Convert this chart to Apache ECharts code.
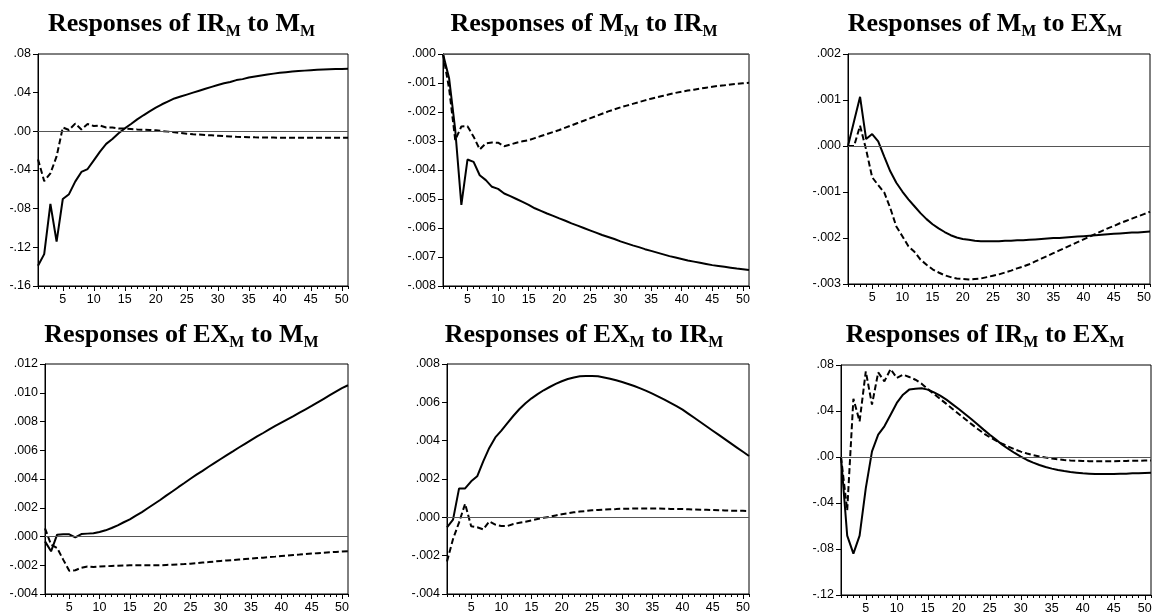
<!DOCTYPE html>
<html><head><meta charset="utf-8">
<script src="https://cdn.jsdelivr.net/npm/echarts@6/dist/echarts.min.js"></script>
<style>html,body{margin:0;padding:0;background:#fff}#c{width:1152px;height:614px}</style>
</head><body><div id="c"></div>
<script>
// ---------- data ----------
const periods = [1,2,3,4,5,6,7,8,9,10,11,12,13,14,15,16,17,18,19,20,21,22,23,24,25,26,27,28,29,30,31,32,33,34,35,36,37,38,39,40,41,42,43,44,45,46,47,48,49,50,51];
const xTickLabels = [5,10,15,20,25,30,35,40,45,50];

// panel titles: [response variable, shock variable]
const titleResp = ['IR','M','M','EX','EX','IR'];
const titleShock = ['M','IR','EX','M','IR','EX'];

// y-axis tick settings
const yMin = [-0.16, -0.008, -0.003, -0.004, -0.004, -0.12];
const yMax = [0.08, 0.000, 0.002, 0.012, 0.008, 0.08];
const yStep = [0.04, 0.001, 0.001, 0.002, 0.002, 0.04];
const yDecimals = [2, 3, 3, 3, 3, 2];

// Responses of IR_M to M_M
const irToM_solid = [-0.139,-0.127,-0.075,-0.114,-0.070,-0.065,-0.052,-0.042,-0.039,-0.030,
 -0.021,-0.013,-0.008,-0.002,0.003,0.0076,0.0124,0.0166,0.0207,0.0245,
 0.028,0.031,0.034,0.036,0.038,0.040,0.042,0.044,0.046,0.048,
 0.0497,0.051,0.053,0.054,0.0556,0.0567,0.0577,0.0587,0.0597,0.0605,
 0.0612,0.0618,0.0623,0.0628,0.0633,0.0637,0.064,0.0643,0.0645,0.0646,0.0647];
const irToM_dash = [-0.029,-0.0515,-0.0435,-0.026,0.004,0.0014,0.008,0.002,0.0076,0.0055,
 0.006,0.004,0.004,0.003,0.0028,0.0024,0.002,0.0017,0.0014,0.001,
 0.0003,-0.0003,-0.001,-0.0017,-0.0024,-0.003,-0.0034,-0.0038,-0.0041,-0.0045,
 -0.005,-0.0053,-0.0056,-0.0058,-0.006,-0.0062,-0.0063,-0.0064,-0.0065,-0.0066,
 -0.0066,-0.0067,-0.0067,-0.0067,-0.0067,-0.0067,-0.0067,-0.0067,-0.0067,-0.0067,-0.0067];

// Responses of M_M to IR_M
const mToIr_solid = [0,-0.00084,-0.00262,-0.0052,-0.00364,-0.00372,-0.00418,-0.00435,-0.00458,-0.00465,
 -0.00481,-0.0049,-0.005,-0.0051,-0.0052,-0.00532,-0.00541,-0.0055,-0.00558,-0.00567,
 -0.00575,-0.00584,-0.00592,-0.006,-0.00608,-0.00616,-0.00624,-0.00631,-0.00638,-0.00646,
 -0.00653,-0.0066,-0.00666,-0.00673,-0.00679,-0.00685,-0.00691,-0.00697,-0.00702,-0.00707,
 -0.00712,-0.00716,-0.0072,-0.00724,-0.00728,-0.00731,-0.00734,-0.00737,-0.0074,-0.00742,-0.00745];
const mToIr_dash = [0,-0.0012,-0.00297,-0.0025,-0.00249,-0.00285,-0.00329,-0.00308,-0.00305,-0.00306,
 -0.00318,-0.00312,-0.00306,-0.00301,-0.00297,-0.0029,-0.00283,-0.00276,-0.00269,-0.00262,
 -0.00254,-0.00246,-0.00238,-0.0023,-0.00222,-0.00214,-0.00206,-0.00198,-0.00191,-0.00184,
 -0.00178,-0.00172,-0.00166,-0.0016,-0.00154,-0.00149,-0.00144,-0.00139,-0.00134,-0.0013,
 -0.00126,-0.00123,-0.00119,-0.00116,-0.00113,-0.0011,-0.00108,-0.00105,-0.00103,-0.00101,-0.00099];

// Responses of M_M to EX_M
const mToEx_solid = [0,0.00054,0.00107,0.00015,0.00026,0.0001,-0.00023,-0.00055,-0.0008,-0.00099,
 -0.00116,-0.00131,-0.00146,-0.00159,-0.0017,-0.00179,-0.00187,-0.00194,-0.00199,-0.00202,
 -0.00204,-0.00206,-0.00207,-0.00207,-0.00207,-0.00207,-0.00206,-0.00206,-0.00205,-0.00205,
 -0.00204,-0.00203,-0.00202,-0.00201,-0.002,-0.002,-0.00199,-0.00198,-0.00197,-0.00196,
 -0.00195,-0.00194,-0.00193,-0.00192,-0.00191,-0.0019,-0.00189,-0.00188,-0.00188,-0.00187,-0.00186];
const mToEx_dash = [0,0,0.00044,-0.00008,-0.00068,-0.00085,-0.00101,-0.00135,-0.00175,-0.00196,
 -0.00218,-0.0023,-0.00247,-0.00258,-0.00268,-0.00275,-0.00281,-0.00285,-0.00288,-0.00289,
 -0.0029,-0.00289,-0.00288,-0.00285,-0.00282,-0.00279,-0.00275,-0.00271,-0.00266,-0.00262,
 -0.00257,-0.00251,-0.00245,-0.00239,-0.00233,-0.00227,-0.00221,-0.00215,-0.00209,-0.00203,
 -0.00197,-0.00191,-0.00185,-0.00179,-0.00174,-0.00168,-0.00163,-0.00158,-0.00153,-0.00148,-0.00143];

// Responses of EX_M to M_M
const exToM_solid = [-0.00034,-0.00103,0.00013,0.00015,0.00015,-0.00006,0.00017,0.0002,0.00022,0.00031,
 0.00043,0.00059,0.00078,0.00099,0.00119,0.00145,0.0017,0.00198,0.00226,0.00254,
 0.00284,0.00313,0.00343,0.00372,0.00402,0.0043,0.00457,0.00485,0.00512,0.00539,
 0.00566,0.00592,0.00619,0.00645,0.00671,0.00696,0.0072,0.00745,0.00769,0.00792,
 0.00815,0.00838,0.00862,0.00885,0.00908,0.00933,0.00958,0.00983,0.01008,0.01032,0.01052];
const exToM_dash = [0.00057,-0.00057,-0.0008,-0.00161,-0.00238,-0.00235,-0.00217,-0.00208,-0.00212,-0.00208,
 -0.00207,-0.00205,-0.00203,-0.00202,-0.002,-0.002,-0.002,-0.002,-0.002,-0.002,
 -0.00198,-0.00196,-0.00194,-0.00192,-0.00189,-0.00185,-0.00181,-0.00178,-0.00174,-0.0017,
 -0.00167,-0.00164,-0.0016,-0.00157,-0.00154,-0.0015,-0.00147,-0.00143,-0.0014,-0.00136,
 -0.00133,-0.00129,-0.00126,-0.00122,-0.00119,-0.00116,-0.00113,-0.0011,-0.00107,-0.00105,-0.00103];

// Responses of EX_M to IR_M
const exToIr_solid = [-0.00052,-0.00012,0.00151,0.00151,0.00188,0.00214,0.00292,0.00362,0.00417,0.00452,
 0.00492,0.0053,0.00565,0.00595,0.00621,0.00643,0.00663,0.0068,0.00696,0.0071,
 0.00722,0.0073,0.00736,0.00737,0.00737,0.00736,0.0073,0.00723,0.00715,0.00706,
 0.00696,0.00685,0.00673,0.0066,0.00645,0.0063,0.00614,0.00597,0.0058,0.00562,
 0.0054,0.00518,0.00496,0.00474,0.00452,0.0043,0.00408,0.00386,0.00364,0.00342,0.0032];
const exToIr_dash = [-0.0023,-0.00113,-0.00026,0.00071,-0.00047,-0.00052,-0.00063,-0.00021,-0.00038,-0.00045,
 -0.00045,-0.00035,-0.00028,-0.00023,-0.00016,-0.00009,-0.00002,0.00003,0.0001,0.00016,
 0.00021,0.00026,0.0003,0.00033,0.00037,0.00038,0.0004,0.00042,0.00043,0.00045,
 0.00045,0.00046,0.00046,0.00046,0.00046,0.00046,0.00045,0.00044,0.00044,0.00043,
 0.00042,0.00041,0.0004,0.00039,0.00038,0.00037,0.00036,0.00035,0.00034,0.00034,0.00033];

// Responses of IR_M to EX_M
const irToEx_solid = [0,-0.0684,-0.084,-0.0684,-0.027,0.0049,0.0194,0.0267,0.0368,0.047,
 0.0542,0.0586,0.0594,0.0597,0.0586,0.0562,0.0533,0.0499,0.0458,0.0417,
 0.0374,0.033,0.0284,0.0238,0.0194,0.0151,0.0107,0.007,0.0035,0.0003,
 -0.0026,-0.0049,-0.007,-0.0087,-0.0101,-0.0113,-0.0122,-0.013,-0.0136,-0.0142,
 -0.0145,-0.0148,-0.0148,-0.0148,-0.0148,-0.0145,-0.0145,-0.0142,-0.0142,-0.0139,-0.0136];
const irToEx_dash = [0,-0.0464,0.0507,0.031,0.0745,0.0455,0.0736,0.0658,0.0765,0.0687,
 0.0716,0.0696,0.0672,0.0638,0.0591,0.0548,0.0505,0.0462,0.0418,0.0374,
 0.0331,0.0288,0.0246,0.0206,0.0172,0.0142,0.0115,0.009,0.0067,0.0047,
 0.003,0.0016,0.0005,-0.0005,-0.0013,-0.002,-0.0026,-0.003,-0.0033,-0.0035,
 -0.0036,-0.0037,-0.0037,-0.0037,-0.0036,-0.0035,-0.0034,-0.0033,-0.0032,-0.0031,-0.003];

const solidSeries = [irToM_solid, mToIr_solid, mToEx_solid, exToM_solid, exToIr_solid, irToEx_solid];
const dashSeries  = [irToM_dash,  mToIr_dash,  mToEx_dash,  exToM_dash,  exToIr_dash,  irToEx_dash];

// ---------- layout ----------
const gridBoxes = [[38,54,310,232],[443,54,306,232],[848,54,302,230],[45,364,303,230],[447,364,302,230],[841,365,310,230]];
const titleCenters = [181.5, 584, 985, 181.5, 584, 985];
const titleTops = [9.5, 9.5, 9.5, 320.5, 320.5, 320.5];

function fmt(v, d){
  let s = Math.abs(v) < 1e-12 ? (0).toFixed(d) : v.toFixed(d);
  return s.replace(/^-0\./, '-.').replace(/^0\./, '.');
}

const cats = periods.map(String);
const grids = [], xAxes = [], yAxes = [], series = [], graphics = [];
for (let i = 0; i < 6; i++) {
  const b = gridBoxes[i];
  grids.push({left:b[0], top:b[1], width:b[2], height:b[3], show:true, borderColor:'#000', borderWidth:1, backgroundColor:'transparent', outerBoundsMode:'none', containLabel:false});
  // minor ticks + labels
  xAxes.push({type:'category', gridIndex:i, data:cats, boundaryGap:false, position:'bottom',
    axisLine:{show:true, onZero:false, lineStyle:{color:'#000', width:1}},
    axisTick:{show:true, interval:0, length:3, inside:false, lineStyle:{color:'#000', width:1}},
    axisLabel:{show:true, interval:(idx, val) => xTickLabels.indexOf(+val) >= 0, color:'#000', fontFamily:'Liberation Sans, Arial', fontSize:12.5, margin:7, hideOverlap:false},
    splitLine:{show:false}});
  // major ticks
  xAxes.push({type:'category', gridIndex:i, data:cats, boundaryGap:false, position:'bottom',
    axisLine:{show:false, onZero:false},
    axisTick:{show:true, interval:(idx, val) => xTickLabels.indexOf(+val) >= 0, length:5, lineStyle:{color:'#000', width:1}},
    axisLabel:{show:false}, splitLine:{show:false}});
  yAxes.push({type:'value', gridIndex:i, min:yMin[i], max:yMax[i], interval:yStep[i],
    axisLine:{show:true, onZero:false, lineStyle:{color:'#000', width:1}},
    axisTick:{show:true, length:5, lineStyle:{color:'#000', width:1}},
    axisLabel:{show:true, color:'#000', fontFamily:'Liberation Sans, Arial', fontSize:12.5, margin:7, showMinLabel:true, showMaxLabel:true, formatter:(v) => fmt(v, yDecimals[i])},
    splitLine:{show:false}});
  series.push({type:'line', xAxisIndex:2*i, yAxisIndex:i, data:solidSeries[i], symbol:'none', smooth:false,
    lineStyle:{color:'#000', width:2, type:'solid'}, z:3,
    markLine:{silent:true, symbol:['none','none'], label:{show:false}, animation:false,
      lineStyle:{color:'#555', width:1, type:'solid'}, emphasis:{disabled:true}, data:[{yAxis:0}]}});
  series.push({type:'line', xAxisIndex:2*i, yAxisIndex:i, data:dashSeries[i], symbol:'none', smooth:false,
    lineStyle:{color:'#000', width:2, type:[6,3]}, z:3});
  graphics.push({type:'text', x:titleCenters[i], y:titleTops[i], silent:true,
    style:{text:'{a|Responses of ' + titleResp[i] + '}{s|M}{a| to ' + titleShock[i] + '}{s|M}',
      align:'center', verticalAlign:'top', fill:'#000',
      rich:{a:{fontFamily:'Liberation Serif, Times New Roman', fontWeight:'bold', fontSize:26, lineHeight:30, fill:'#000', verticalAlign:'middle'},
            s:{fontFamily:'Liberation Serif, Times New Roman', fontWeight:'bold', fontSize:16, lineHeight:16, fill:'#000', verticalAlign:'bottom'}}}});
}

const chart = echarts.init(document.getElementById('c'), null, {renderer:'canvas'});
chart.setOption({animation:false, backgroundColor:'#fff', grid:grids, xAxis:xAxes, yAxis:yAxes, series:series, graphic:graphics});
</script></body></html>
